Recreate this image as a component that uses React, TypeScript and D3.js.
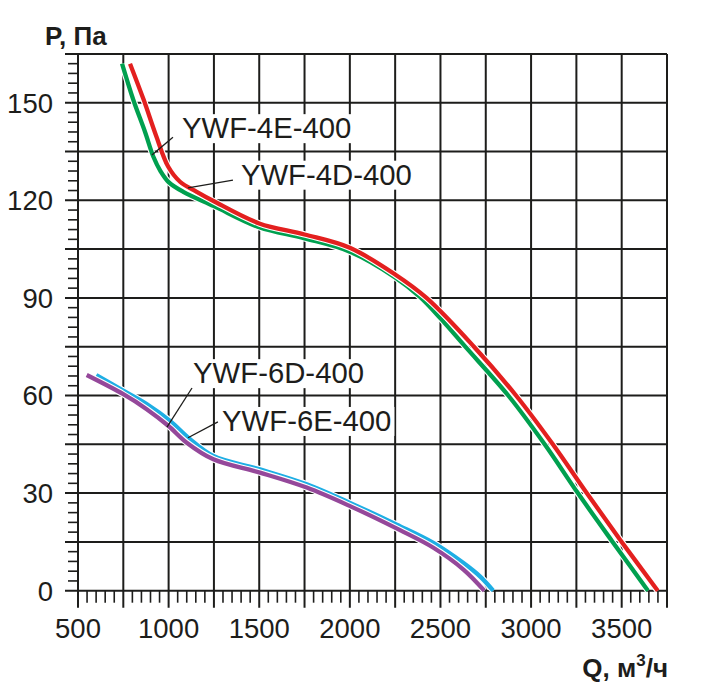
import { useEffect, useRef } from 'react';
import * as d3 from 'd3';

// Pressure curves, Q in m3/h, P in Pa
const seriesNames = ['YWF-4E-400', 'YWF-4D-400', 'YWF-6E-400', 'YWF-6D-400'];
const seriesColors = ['#00a04f', '#e3201f', '#1eaee4', '#95489a'];

const q4E = [743, 805, 870, 916, 955, 1000, 1081, 1250, 1500, 1750, 2000, 2250, 2387, 2500, 2637, 2874, 3075, 3258, 3450, 3645];
const p4E = [162, 150.9, 141, 133.4, 129, 125.6, 122.6, 118.2, 111.7, 108.3, 104.2, 96.3, 90.3, 83.7, 75, 60, 45, 30, 15, 0];

const q4D = [787, 863, 930, 998, 1063, 1155, 1250, 1500, 1750, 2000, 2250, 2423, 2685, 2917, 3120, 3307, 3500, 3699];
const p4D = [162, 150.8, 140, 130.3, 125.7, 122.6, 119.7, 112.9, 109.5, 105.4, 97.2, 90, 75, 60, 45, 30, 15, 0];

const q6E = [601, 750, 879, 1008, 1118, 1247, 1504, 1762, 2001, 2259, 2461, 2627, 2718, 2791];
const p6E = [66.3, 61.5, 57.4, 52.2, 46.6, 41.4, 37.3, 32.7, 27, 20.3, 14.7, 8.5, 4.4, 0];

const q6D = [548, 750, 879, 998, 1100, 1247, 1504, 1762, 2001, 2277, 2461, 2627, 2742];
const p6D = [66.3, 60.4, 55.8, 50.7, 45.5, 40.4, 36.3, 31.7, 26, 18.6, 13.2, 6.5, 0];

const xTicks = [500, 1000, 1500, 2000, 2500, 3000, 3500];
const yTicks = [0, 30, 60, 90, 120, 150];

// label text anchor and leader line, in data units
const labelQ = [1074, 1399, 1295, 1135];
const labelP = [139.1, 124.8, 49.1, 63.8];
const leaderFrom = [[1024, 139.4], [1355, 126.2], [1272, 51.9], [1129, 62.3]];
const leaderTo = [[908, 133.9], [1107, 123.8], [1107, 47.0], [991, 50.3]];

const FONT = '"Liberation Sans", Arial, sans-serif';
const INK = '#1d1d1b';

export default function App() {
  const svgRef = useRef<SVGSVGElement>(null);

  useEffect(() => {
    if (!svgRef.current) return;
    const svg = d3.select(svgRef.current);
    svg.selectAll('*').remove();

    const x = d3.scaleLinear().domain([500, 3750]).range([78, 667]);
    const y = d3.scaleLinear().domain([0, 165]).range([590.7, 53.9]);

    const grid = svg.append('g').attr('stroke', INK).attr('stroke-width', 2);

    // horizontal grid lines every 15 Pa
    for (let p = 0; p <= 165; p += 15) {
      grid.append('line')
        .attr('x1', x(500) - 13).attr('x2', x(3750))
        .attr('y1', y(p)).attr('y2', y(p));
    }
    // vertical grid lines every 250 m3/h
    for (let q = 500; q <= 3750; q += 250) {
      grid.append('line')
        .attr('x1', x(q)).attr('x2', x(q))
        .attr('y1', y(165)).attr('y2', y(0) + 17);
    }
    // minor ticks
    const minor = svg.append('g').attr('stroke', INK).attr('stroke-width', 1.6);
    for (let p = 3; p < 165; p += 3) {
      if (p % 15 === 0) continue;
      minor.append('line')
        .attr('x1', x(500) - 10).attr('x2', x(500))
        .attr('y1', y(p)).attr('y2', y(p));
    }
    for (let q = 550; q < 3750; q += 50) {
      if (q % 250 === 0) continue;
      minor.append('line')
        .attr('x1', x(q)).attr('x2', x(q))
        .attr('y1', y(0)).attr('y2', y(0) + 12);
    }

    // tick labels
    svg.append('g')
      .selectAll('text')
      .data(yTicks)
      .join('text')
      .attr('x', 53)
      .attr('y', d => y(d))
      .attr('dy', '0.36em')
      .attr('text-anchor', 'end')
      .attr('font-family', FONT)
      .attr('font-size', 27.5)
      .attr('fill', INK)
      .text(d => d);

    svg.append('g')
      .selectAll('text')
      .data(xTicks)
      .join('text')
      .attr('x', d => x(d))
      .attr('y', 638)
      .attr('text-anchor', 'middle')
      .attr('font-family', FONT)
      .attr('font-size', 27.5)
      .attr('fill', INK)
      .text(d => d);

    // axis titles
    svg.append('text')
      .attr('x', 45).attr('y', 45)
      .attr('font-family', FONT).attr('font-size', 26).attr('font-weight', 'bold')
      .attr('fill', INK)
      .text('P, Па');

    const qTitle = svg.append('text')
      .attr('x', 668).attr('y', 677)
      .attr('text-anchor', 'end')
      .attr('font-family', FONT).attr('font-size', 26).attr('font-weight', 'bold')
      .attr('fill', INK);
    qTitle.append('tspan').text('Q, м');
    qTitle.append('tspan').attr('font-size', 17).attr('dy', -11).text('3');
    qTitle.append('tspan').attr('dy', 11).text('/ч');

    // curves
    const series = [
      d3.zip(q4E, p4E),
      d3.zip(q4D, p4D),
      d3.zip(q6E, p6E),
      d3.zip(q6D, p6D),
    ];
    const line = d3.line<number[]>()
      .x(d => x(d[0]))
      .y(d => y(d[1]))
      .curve(d3.curveCatmullRom.alpha(0.5));

    series.forEach((pts, i) => {
      svg.append('path')
        .attr('d', line(pts))
        .attr('fill', 'none')
        .attr('stroke', '#fff')
        .attr('stroke-width', 6.5);
      svg.append('path')
        .attr('d', line(pts))
        .attr('fill', 'none')
        .attr('stroke', seriesColors[i])
        .attr('stroke-width', 4.3);
    });

    // labels with white boxes and leader lines
    seriesNames.forEach((name, i) => {
      const g = svg.append('g');
      const t = g.append('text')
        .attr('x', x(labelQ[i]))
        .attr('y', y(labelP[i]))
        .attr('font-family', FONT)
        .attr('font-size', 29.3)
        .attr('fill', INK)
        .text(name);
      const bb = (t.node() as SVGTextElement).getBBox();
      g.insert('rect', 'text')
        .attr('x', bb.x - 3)
        .attr('y', bb.y + 3)
        .attr('width', bb.width + 6)
        .attr('height', bb.height - 4)
        .attr('fill', '#fff');
      svg.append('line')
        .attr('x1', x(leaderFrom[i][0])).attr('y1', y(leaderFrom[i][1]))
        .attr('x2', x(leaderTo[i][0])).attr('y2', y(leaderTo[i][1]))
        .attr('stroke', INK)
        .attr('stroke-width', 1.3);
    });
  }, []);

  return (
    <svg
      ref={svgRef}
      width={704}
      height={690}
      style={{ position: 'absolute', left: 0, top: 0, background: '#fff' }}
    />
  );
}
